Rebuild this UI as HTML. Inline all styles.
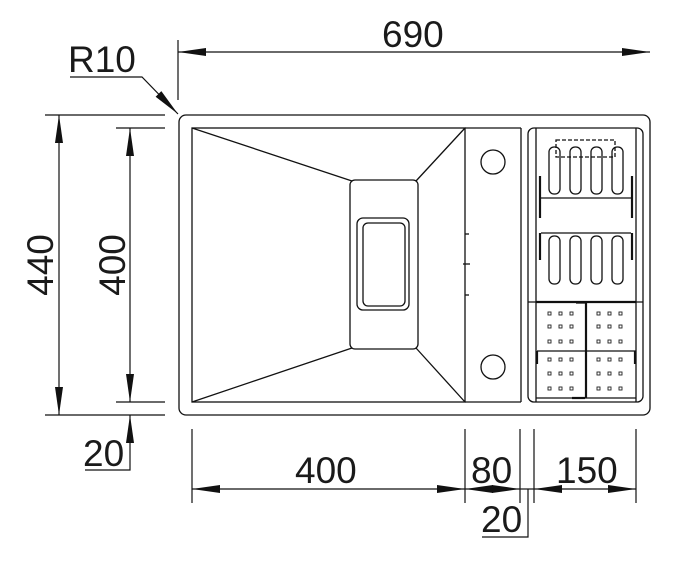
<!DOCTYPE html>
<html><head><meta charset="utf-8"><style>
html,body{margin:0;padding:0;background:#fff;}
svg{display:block;}
text{font-family:"Liberation Sans",sans-serif;font-size:37px;fill:#1a1a1a;}
</style></head><body>
<svg width="673" height="563" viewBox="0 0 673 563" xmlns="http://www.w3.org/2000/svg">
<defs>
<marker id="a" viewBox="0 0 28 8" refX="28" refY="4" markerWidth="28" markerHeight="8" markerUnits="userSpaceOnUse" orient="auto-start-reverse">
<path d="M0,0 L28,4 L0,8 Z" fill="#111"/>
</marker>
</defs>
<g stroke="#111" stroke-width="1.3" fill="none">
<rect x="179" y="115" width="471" height="300" rx="7"/>
<rect x="192" y="128" width="273" height="274"/>
<line x1="465" y1="128" x2="521" y2="128"/>
<line x1="465" y1="402" x2="521" y2="402"/>
<line x1="521" y1="128" x2="521" y2="402"/>
<line x1="192" y1="128" x2="352" y2="181"/>
<line x1="465" y1="128" x2="416" y2="181"/>
<line x1="192" y1="402" x2="352" y2="348"/>
<line x1="465" y1="402" x2="416" y2="348"/>
<rect x="350" y="180" width="68" height="169" rx="5"/>
<rect x="357" y="218" width="52" height="92" rx="6"/>
<rect x="363" y="223" width="42" height="83" rx="5"/>
<line x1="465" y1="234" x2="469" y2="234"/>
<line x1="463" y1="264" x2="470" y2="264"/>
<line x1="465" y1="295" x2="469" y2="295"/>
<circle cx="493" cy="162" r="12"/>
<circle cx="493" cy="367" r="12"/>
<rect x="528" y="128" width="115" height="274" rx="6"/>
<line x1="536" y1="128" x2="536" y2="402"/>
<line x1="636" y1="128" x2="636" y2="402"/>
<rect x="556" y="140" width="59" height="17" stroke-dasharray="4,2"/>
<rect x="549" y="147" width="11" height="47" rx="5"/>
<rect x="570" y="147" width="11" height="47" rx="5"/>
<rect x="591" y="147" width="11" height="47" rx="5"/>
<rect x="612" y="147" width="11" height="47" rx="5"/>
<rect x="549" y="236" width="11" height="48" rx="5"/>
<rect x="570" y="236" width="11" height="48" rx="5"/>
<rect x="591" y="236" width="11" height="48" rx="5"/>
<rect x="612" y="236" width="11" height="48" rx="5"/>
<line x1="541" y1="198" x2="631" y2="198"/>
<line x1="541" y1="233" x2="631" y2="233"/>
<g stroke-width="2.2">
<line x1="540" y1="176" x2="540" y2="218"/>
<line x1="540" y1="233" x2="540" y2="260"/>
<line x1="632" y1="176" x2="632" y2="218"/>
<line x1="632" y1="233" x2="632" y2="260"/>
<line x1="536" y1="302" x2="636" y2="302"/>
<line x1="586" y1="303" x2="586" y2="398"/>
<line x1="537" y1="351" x2="537" y2="364"/>
<line x1="635" y1="351" x2="635" y2="364"/>
<line x1="572" y1="398" x2="585" y2="398"/>
</g>
<line x1="537" y1="351" x2="636" y2="351"/>
<line x1="576" y1="303" x2="586" y2="303"/>
<line x1="536" y1="398" x2="636" y2="398"/>
<line x1="528" y1="302" x2="643" y2="302"/>
</g>
<g fill="none" stroke="#222" stroke-width="0.9">
<g id="dots">
<rect x="548" y="312" width="3" height="3"/><rect x="559" y="312" width="3" height="3"/><rect x="570" y="312" width="3" height="3"/>
<rect x="548" y="325" width="3" height="3"/><rect x="559" y="325" width="3" height="3"/><rect x="570" y="325" width="3" height="3"/>
<rect x="548" y="340" width="3" height="3"/><rect x="559" y="340" width="3" height="3"/><rect x="570" y="340" width="3" height="3"/>
<rect x="548" y="358" width="3" height="3"/><rect x="559" y="358" width="3" height="3"/><rect x="570" y="358" width="3" height="3"/>
<rect x="548" y="372" width="3" height="3"/><rect x="559" y="372" width="3" height="3"/><rect x="570" y="372" width="3" height="3"/>
<rect x="548" y="387" width="3" height="3"/><rect x="559" y="387" width="3" height="3"/><rect x="570" y="387" width="3" height="3"/>
</g>
<use href="#dots" x="49"/>
</g>
<g stroke="#111" stroke-width="1.2" fill="none">
<line x1="178" y1="40" x2="178" y2="100"/>
<line x1="178" y1="52" x2="650" y2="52" marker-start="url(#a)" marker-end="url(#a)"/>
<polyline points="70,77 142,77 178,114" marker-end="url(#a)"/>
<line x1="45" y1="115" x2="165" y2="115"/>
<line x1="45" y1="415" x2="165" y2="415"/>
<line x1="116" y1="128" x2="165" y2="128"/>
<line x1="116" y1="402" x2="165" y2="402"/>
<line x1="59" y1="115" x2="59" y2="415" marker-start="url(#a)" marker-end="url(#a)"/>
<line x1="130" y1="128" x2="130" y2="402" marker-start="url(#a)" marker-end="url(#a)"/>
<polyline points="85,470 130,470 130,415" marker-end="url(#a)"/>
<line x1="192" y1="429" x2="192" y2="503"/>
<line x1="465" y1="429" x2="465" y2="503"/>
<line x1="520" y1="429" x2="520" y2="503"/>
<line x1="534" y1="429" x2="534" y2="503"/>
<line x1="636" y1="429" x2="636" y2="503"/>
<line x1="192" y1="489" x2="465" y2="489" marker-start="url(#a)" marker-end="url(#a)"/>
<line x1="465" y1="489" x2="492" y2="489" marker-start="url(#a)"/>
<line x1="492" y1="489" x2="520" y2="489" marker-end="url(#a)"/>
<line x1="520" y1="489" x2="534" y2="489"/>
<line x1="534" y1="489" x2="560" y2="489" marker-start="url(#a)"/>
<line x1="560" y1="489" x2="636" y2="489" marker-end="url(#a)"/>
<polyline points="528,489 528,537 482,537"/>
</g>
<text x="382" y="47">690</text>
<text x="68" y="72">R10</text>
<text x="83" y="466">20</text>
<text x="295" y="483">400</text>
<text x="471" y="483">80</text>
<text x="556" y="483">150</text>
<text x="481" y="532">20</text>
<text transform="translate(53,265) rotate(-90)" text-anchor="middle">440</text>
<text transform="translate(125,265) rotate(-90)" text-anchor="middle">400</text>
</svg>
</body></html>
